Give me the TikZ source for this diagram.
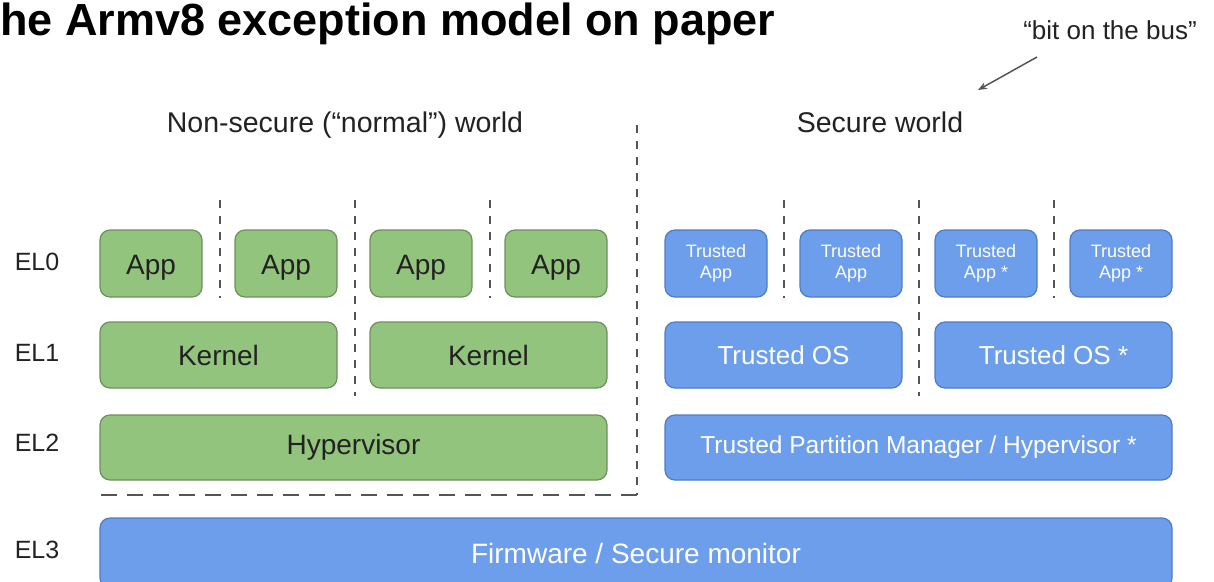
\documentclass[tikz,border=0pt]{standalone}
\usepackage{fontspec}
\setmainfont{Liberation Sans}
\usetikzlibrary{arrows.meta}
\definecolor{gfill}{HTML}{93C47D}
\definecolor{gdraw}{HTML}{6E8F5E}
\definecolor{bfill}{HTML}{6D9EEB}
\definecolor{bdraw}{HTML}{4F7CC4}
\definecolor{txt}{HTML}{222222}
\definecolor{dashc}{HTML}{555555}
\tikzset{
  box/.style={rounded corners=10pt, line width=1.2pt, inner sep=0pt, align=center},
  gbox/.style={box, fill=gfill, draw=gdraw, text=txt, font=\fontsize{28}{30}\selectfont},
  bbox/.style={box, fill=bfill, draw=bdraw, text=white, font=\fontsize{26}{28}\selectfont},
  tapp/.style={bbox, font=\fontsize{18}{21}\selectfont, minimum width=102pt, minimum height=67pt},
  gapp/.style={gbox, minimum width=102pt, minimum height=67pt},
  lbl/.style={text=txt, font=\fontsize{25}{27}\selectfont, inner sep=0pt},
  hdr/.style={text=txt, font=\fontsize{28.5}{30}\selectfont, inner sep=0pt, anchor=base},
  vsep/.style={draw=dashc, line width=2pt, dash pattern=on 8pt off 8pt},
  hsep/.style={draw=dashc, line width=2pt, dash pattern=on 16pt off 10pt},
}
\begin{document}
\begin{tikzpicture}[x=1pt,y=-1pt]
\clip (0,0) rectangle (1214,581);
\fill[white] (0,0) rectangle (1214,581);

% title
\node[anchor=base west, inner sep=0pt, font=\fontsize{45}{47}\selectfont\bfseries, text=black] (title) at (0,35) {he Armv8 exception model on paper};

% bit on the bus
\node[text=txt, font=\fontsize{26}{28}\selectfont, inner sep=0pt] (bus) at (1110,30) {“bit on the bus”};
\coordinate (busA) at (1037,57);
\coordinate (busB) at (978,90);
\draw[draw=dashc, line width=1.5pt, -{Stealth[length=9pt,width=7pt]}] (busA) -- (busB);

% headers
\node[hdr] (nsw) at (345,132) {Non-secure (“normal”) world};
\node[hdr] (sw) at (880,132) {Secure world};

% EL labels
\node[lbl] (el0) at (37,262) {EL0};
\node[lbl] (el1) at (37,353) {EL1};
\node[lbl] (el2) at (37,443) {EL2};
\node[lbl] (el3) at (37,550) {EL3};

% separators
\coordinate (wtop) at (637,125);
\coordinate (wcorner) at (637,495);
\coordinate (wleft) at (92,495);
\draw[vsep] (wtop) -- (wcorner);
\draw[hsep] (wcorner) -- (wleft);

\coordinate (s1a) at (220,200); \coordinate (s1b) at (220,298);
\coordinate (s2a) at (355,200); \coordinate (s2b) at (355,396);
\coordinate (s3a) at (490,200); \coordinate (s3b) at (490,298);
\coordinate (s4a) at (784,200); \coordinate (s4b) at (784,298);
\coordinate (s5a) at (919,200); \coordinate (s5b) at (919,396);
\coordinate (s6a) at (1054,200); \coordinate (s6b) at (1054,298);
\draw[vsep] (s1a) -- (s1b);
\draw[vsep] (s2a) -- (s2b);
\draw[vsep] (s3a) -- (s3b);
\draw[vsep] (s4a) -- (s4b);
\draw[vsep] (s5a) -- (s5b);
\draw[vsep] (s6a) -- (s6b);

% EL0 non-secure
\node[gapp] (app1) at (151,263.5) {\smash{\raisebox{-11pt}{App}}};
\node[gapp] (app2) at (286,263.5) {\smash{\raisebox{-11pt}{App}}};
\node[gapp] (app3) at (421,263.5) {\smash{\raisebox{-11pt}{App}}};
\node[gapp] (app4) at (556,263.5) {\smash{\raisebox{-11pt}{App}}};
% EL0 secure
\node[tapp] (ta1) at (716,263.5) {Trusted\\App};
\node[tapp] (ta2) at (851,263.5) {Trusted\\App};
\node[tapp] (ta3) at (986,263.5) {Trusted\\App *};
\node[tapp] (ta4) at (1121,263.5) {Trusted\\App *};

% EL1
\node[gbox, minimum width=237pt, minimum height=66pt] (k1) at (218.5,355) {Kernel};
\node[gbox, minimum width=237pt, minimum height=66pt] (k2) at (488.5,355) {Kernel};
\node[bbox, minimum width=237pt, minimum height=66pt] (tos1) at (783.5,355) {Trusted OS};
\node[bbox, minimum width=237pt, minimum height=66pt] (tos2) at (1053.5,355) {Trusted OS *};

% EL2
\node[gbox, minimum width=507pt, minimum height=65pt] (hyp) at (353.5,447.5) {Hypervisor};
\node[bbox, minimum width=507pt, minimum height=65pt, font=\fontsize{24.5}{26}\selectfont] (tpm) at (918.5,447.5) {Trusted Partition Manager / Hypervisor *};

% EL3
\node[bbox, minimum width=1072pt, minimum height=70pt, font=\fontsize{28}{30}\selectfont] (fw) at (636,553) {Firmware / Secure monitor};
\end{tikzpicture}
\end{document}
